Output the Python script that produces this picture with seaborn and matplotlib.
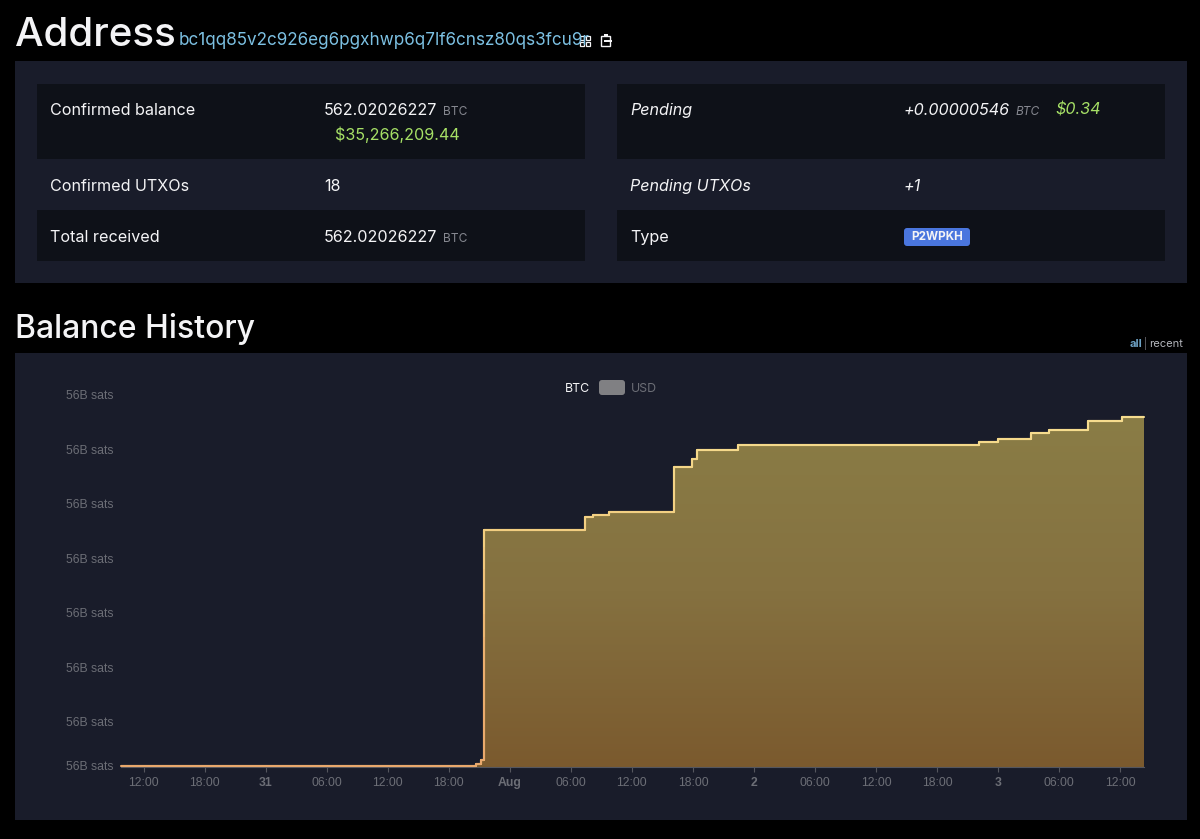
#!/usr/bin/env python3
# -*- coding: utf-8 -*-
"""
Address page with balance history step chart
"""

import numpy as np
import pandas as pd
import matplotlib.pyplot as plt
import matplotlib.dates as mdates
import matplotlib.transforms as mtransforms
from matplotlib.colors import LinearSegmentedColormap
from matplotlib.patches import FancyBboxPatch, Rectangle
import seaborn as sns

# balance steps, values in million sats
step_times = ['2024-07-30 09:47', '2024-07-31 20:39', '2024-07-31 21:12', '2024-07-31 21:28',
              '2024-08-01 07:22', '2024-08-01 08:09', '2024-08-01 09:45', '2024-08-01 16:08',
              '2024-08-01 17:54', '2024-08-01 18:24', '2024-08-01 22:28', '2024-08-02 22:05',
              '2024-08-02 23:58', '2024-08-03 03:15', '2024-08-03 04:59', '2024-08-03 08:51',
              '2024-08-03 12:08', '2024-08-03 14:20']
step_sats = [56073.9, 56074.5, 56076.05, 56160.46,
             56165.12, 56165.85, 56167.17, 56183.47,
             56186.63, 56189.82, 56191.76, 56192.75,
             56193.96, 56195.94, 56197.16, 56200.46,
             56202.03, 56202.03]

x_tick_times = ['2024-07-30 12:00', '2024-07-30 18:00', '2024-07-31 00:00', '2024-07-31 06:00',
                '2024-07-31 12:00', '2024-07-31 18:00', '2024-08-01 00:00', '2024-08-01 06:00',
                '2024-08-01 12:00', '2024-08-01 18:00', '2024-08-02 00:00', '2024-08-02 06:00',
                '2024-08-02 12:00', '2024-08-02 18:00', '2024-08-03 00:00', '2024-08-03 06:00',
                '2024-08-03 12:00']
x_tick_labels = ['12:00', '18:00', '31', '06:00', '12:00', '18:00', 'Aug', '06:00',
                 '12:00', '18:00', '2', '06:00', '12:00', '18:00', '3', '06:00', '12:00']
day_labels = ['31', 'Aug', '2', '3']

y_ticks = [56073.49, 56090, 56110, 56130, 56150, 56170, 56190, 56210]
y_tick_labels = ['56B sats'] * 8
y_min = 56073.49
y_max = 56217.3

fill_colors = ['#8a7d46', '#857140', '#7b5a2e']
line_colors = ['#f6dc8e', '#f2cd80', '#ebb070', '#e9a86c']

PAGE = '#000000'
PANEL = '#191c2a'
ROW = '#0e1118'
WHITE = '#f4f4f6'
GREY = '#6c6e76'
MUTED = '#85878f'
GREEN = '#a6e066'
LINK = '#7cc0e2'

sns.set_theme(style='dark', rc={'axes.facecolor': 'none', 'figure.facecolor': PAGE})
plt.rcParams['font.family'] = ['Inter', 'DejaVu Sans']

fig = plt.figure(figsize=(12, 8.39), dpi=100)

# whole-page layer in pixel coordinates
bg = fig.add_axes([0, 0, 1, 1])
bg.set_xlim(0, 1200)
bg.set_ylim(839, 0)
bg.axis('off')


def box(x0, y0, x1, y1, color):
    bg.add_patch(Rectangle((x0, y0), x1 - x0, y1 - y0, facecolor=color, edgecolor='none'))


def label(x, y, s, size=11.6, color=WHITE, **kw):
    bg.text(x, y, s, fontsize=size, color=color, va='baseline', **kw)


# panels
box(15, 61, 1187, 283, PANEL)
box(15, 353, 1187, 820, PANEL)
for x0 in (37, 617):
    box(x0, 84, x0 + 548, 159, ROW)
    box(x0, 210, x0 + 548, 261, ROW)

# headings
label(15, 46, 'Address', size=29, fontweight='medium')
label(179, 45, 'bc1qq85v2c926eg6pgxhwp6q7lf6cnsz80qs3fcu9r', size=12.3, color=LINK)
label(15, 338, 'Balance History', size=23, fontweight='medium')

# small icons next to the address
for qx, qy in [(580, 36), (586, 36), (580, 42), (586, 42)]:
    bg.add_patch(Rectangle((qx, qy), 4, 4, facecolor='none', edgecolor=WHITE, linewidth=0.9))
bg.add_patch(Rectangle((601, 36), 9, 10, facecolor='none', edgecolor=WHITE, linewidth=1))
bg.add_patch(Rectangle((603.5, 34), 4, 3, facecolor=WHITE, edgecolor='none'))
bg.add_patch(Rectangle((604, 40), 8, 1.5, facecolor=WHITE, edgecolor='none'))

# left table
label(50, 115, 'Confirmed balance')
label(324, 115, '562.02026227')
label(443, 115, 'BTC', size=8.6, color=MUTED)
label(335, 140, '$35,266,209.44', color=GREEN)
label(50, 191, 'Confirmed UTXOs')
label(324, 191, '18')
label(50, 242, 'Total received')
label(324, 242, '562.02026227')
label(443, 242, 'BTC', size=8.6, color=MUTED)

# right table
label(630, 115, 'Pending', fontstyle='italic')
label(904, 115, '+0.00000546', fontstyle='italic')
label(1015, 115, 'BTC', size=8.6, color=MUTED, fontstyle='italic')
label(1055, 115, '$0.34', color=GREEN, fontstyle='italic')
label(630, 191, 'Pending UTXOs', fontstyle='italic')
label(904, 191, '+1', fontstyle='italic')
label(630, 242, 'Type')
bg.add_patch(FancyBboxPatch((906, 230), 62, 14, boxstyle='round,pad=2,rounding_size=3',
                            facecolor='#4a76de', edgecolor='none'))
bg.text(937, 237, 'P2WPKH', fontsize=8.4, color=WHITE, fontweight='bold', ha='center', va='center')

# range switch
label(1130, 347, 'all', size=8, color='#6fa3c6', fontweight='bold')
label(1143.5, 347, '|', size=7, color=GREY)
label(1149, 347, 'recent', size=8, color='#b4b6bc')

# legend
swatch_map = LinearSegmentedColormap.from_list('swatch', ['#f3cb6c', '#e6a03e'])
swatch = bg.imshow(np.linspace(0, 1, 32).reshape(-1, 1), cmap=swatch_map, aspect='auto',
                   extent=[534, 560, 395, 380], origin='upper')
swatch_box = FancyBboxPatch((536, 382), 22, 11, boxstyle='round,pad=2,rounding_size=3',
                            facecolor='none', edgecolor='none')
bg.add_patch(swatch_box)
swatch.set_clip_path(swatch_box)
bg.add_patch(FancyBboxPatch((601, 382), 22, 11, boxstyle='round,pad=2,rounding_size=3',
                            facecolor='#808083', edgecolor='none'))
bg.set_xlim(0, 1200)
bg.set_ylim(839, 0)
label(565, 391.5, 'BTC', size=8.9)
label(631, 391.5, 'USD', size=8.9, color=GREY)

# chart
ax = fig.add_axes([121 / 1200, 1 - 767 / 839, (1144 - 121) / 1200, (767 - 375) / 839])
df = pd.DataFrame({'time': pd.to_datetime(step_times), 'sats': step_sats})

sns.lineplot(data=df, x='time', y='sats', drawstyle='steps-post', estimator=None,
             color=line_colors[0], linewidth=1.5, ax=ax, zorder=3)

# gradient fill under the steps
area = ax.fill_between(df['time'], df['sats'], y_min, step='post', facecolor='none', edgecolor='none')
x_num = mdates.date2num(df['time'])
fill_map = LinearSegmentedColormap.from_list('fill', fill_colors)
grad = ax.imshow(np.linspace(0, 1, 256).reshape(-1, 1), cmap=fill_map, aspect='auto', origin='upper',
                 extent=[x_num[0], x_num[-1], y_min, df['sats'].max()], zorder=2)
grad.set_clip_path(area.get_paths()[0], transform=ax.transData)

# line colour turns more orange towards the bottom, redraw it band by band
line_map = LinearSegmentedColormap.from_list('line', line_colors)
band_edges = np.linspace(y_min - 2, df['sats'].max() + 2, 17)
for i in range(16):
    n_before = len(ax.lines)
    sns.lineplot(data=df, x='time', y='sats', drawstyle='steps-post', estimator=None,
                 color=line_map(1 - i / 15), linewidth=1.5, ax=ax, zorder=4)
    band = Rectangle((x_num[0] - 1, band_edges[i]), x_num[-1] - x_num[0] + 2,
                     band_edges[i + 1] - band_edges[i], transform=ax.transData)
    for line in ax.lines[n_before:]:
        line.set_clip_path(band)

ax.set_xlim(x_num[0], x_num[-1])
ax.set_ylim(y_min, y_max)
ax.set_xlabel('')
ax.set_ylabel('')
ax.grid(False)
for side in ('top', 'right', 'left'):
    ax.spines[side].set_visible(False)
ax.spines['bottom'].set_color('#55565e')
ax.spines['bottom'].set_linewidth(0.8)

ax.set_xticks(mdates.date2num(pd.to_datetime(x_tick_times)))
ax.set_xticklabels(x_tick_labels)
ax.set_yticks(y_ticks)
ax.set_yticklabels(y_tick_labels)
ax.tick_params(axis='x', length=3.5, width=0.8, color='#55565e', labelcolor=GREY, labelsize=8.8, pad=3.5,
               bottom=True)
ax.tick_params(axis='y', length=0, labelcolor=GREY, labelsize=8.8, pad=5.5, left=False)
for t in ax.get_xticklabels():
    t.set_fontfamily(['Liberation Sans', 'DejaVu Sans'])
    if t.get_text() in day_labels:
        t.set_fontweight('bold')
for t in ax.get_yticklabels():
    t.set_fontfamily(['Liberation Sans', 'DejaVu Sans'])
# lowest y label sits slightly above the axis bottom
low = ax.get_yticklabels()[0]
low.set_transform(low.get_transform() + mtransforms.ScaledTranslation(0, 2 / 72 * 0.72, fig.dpi_scale_trans))

fig.savefig('out.png', dpi=100, facecolor=PAGE)
